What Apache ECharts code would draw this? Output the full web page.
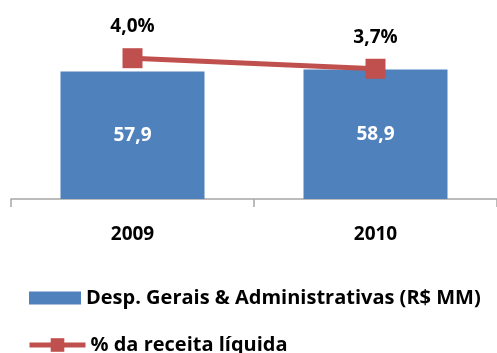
<!DOCTYPE html>
<html>
<head>
<meta charset="utf-8">
<script src="https://cdn.jsdelivr.net/npm/echarts@6/dist/echarts.min.js"></script>
<style>
  html, body { margin: 0; padding: 0; background: #ffffff; }
  #chart { width: 497px; height: 353px; }
</style>
</head>
<body>
<div id="chart"></div>
<script>
// Years on the category axis
const years = ['2009', '2010'];
// General & administrative expenses, R$ million
const despesas = [57.9, 58.9];
// Share of net revenue, %
const percReceita = [4.0, 3.7];
// Series names shown in the legend
const barName = 'Desp. Gerais & Administrativas (R$ MM)';
const lineName = '% da receita líquida';

const FONT = '"Open Sans", "Noto Sans", sans-serif';
const BLUE = '#4F81BD';
const RED = '#C0504D';

const fmt = v => v.toFixed(1).replace('.', ',');

const chart = echarts.init(document.getElementById('chart'), null, { renderer: 'canvas' });

chart.setOption({
  animation: false,
  backgroundColor: '#ffffff',
  textStyle: { fontFamily: FONT },
  grid: { left: 11, width: 490, top: 23, height: 176, containLabel: false },
  legend: [
    {
      data: [{ name: barName, icon: 'rect' }],
      left: 29, top: 288, orient: 'vertical', padding: 0,
      itemWidth: 52, itemHeight: 13,
      textStyle: { fontFamily: FONT, fontSize: 20, fontWeight: 'bold', color: '#000' },
      selectedMode: false
    },
    {
      data: [lineName],
      left: 27, top: 335, orient: 'vertical', padding: 0,
      itemWidth: 56, itemHeight: 17,
      lineStyle: { width: 5 },
      textStyle: { fontFamily: FONT, fontSize: 20, fontWeight: 'bold', color: '#000' },
      selectedMode: false
    }
  ],
  xAxis: {
    type: 'category',
    data: years,
    boundaryGap: true,
    axisLine: { show: true, lineStyle: { color: '#A6A6A6', width: 1.5 } },
    axisTick: { show: true, length: 8, alignWithLabel: false, lineStyle: { color: '#A6A6A6', width: 1.5 } },
    axisLabel: { margin: 26, fontFamily: FONT, fontSize: 19, fontWeight: 'bold', color: '#000' }
  },
  yAxis: [
    { type: 'value', min: 0, max: 80, show: false, splitLine: { show: false } },
    { type: 'value', min: 0, max: 5, show: false, splitLine: { show: false } }
  ],
  series: [
    {
      name: barName,
      type: 'bar',
      data: despesas,
      barWidth: 144,
      itemStyle: { color: BLUE },
      label: {
        show: true, position: 'inside',
        formatter: p => fmt(p.value),
        fontFamily: FONT, fontSize: 19, fontWeight: 'bold', color: '#fff'
      }
    },
    {
      name: lineName,
      type: 'line',
      yAxisIndex: 1,
      data: percReceita,
      symbol: 'rect',
      symbolSize: 20,
      z: 5,
      lineStyle: { color: RED, width: 5 },
      itemStyle: { color: RED },
      label: {
        show: true, position: 'top', distance: 12,
        formatter: p => fmt(p.value) + '%',
        fontFamily: FONT, fontSize: 19, fontWeight: 'bold', color: '#000'
      }
    }
  ]
});
</script>
</body>
</html>
